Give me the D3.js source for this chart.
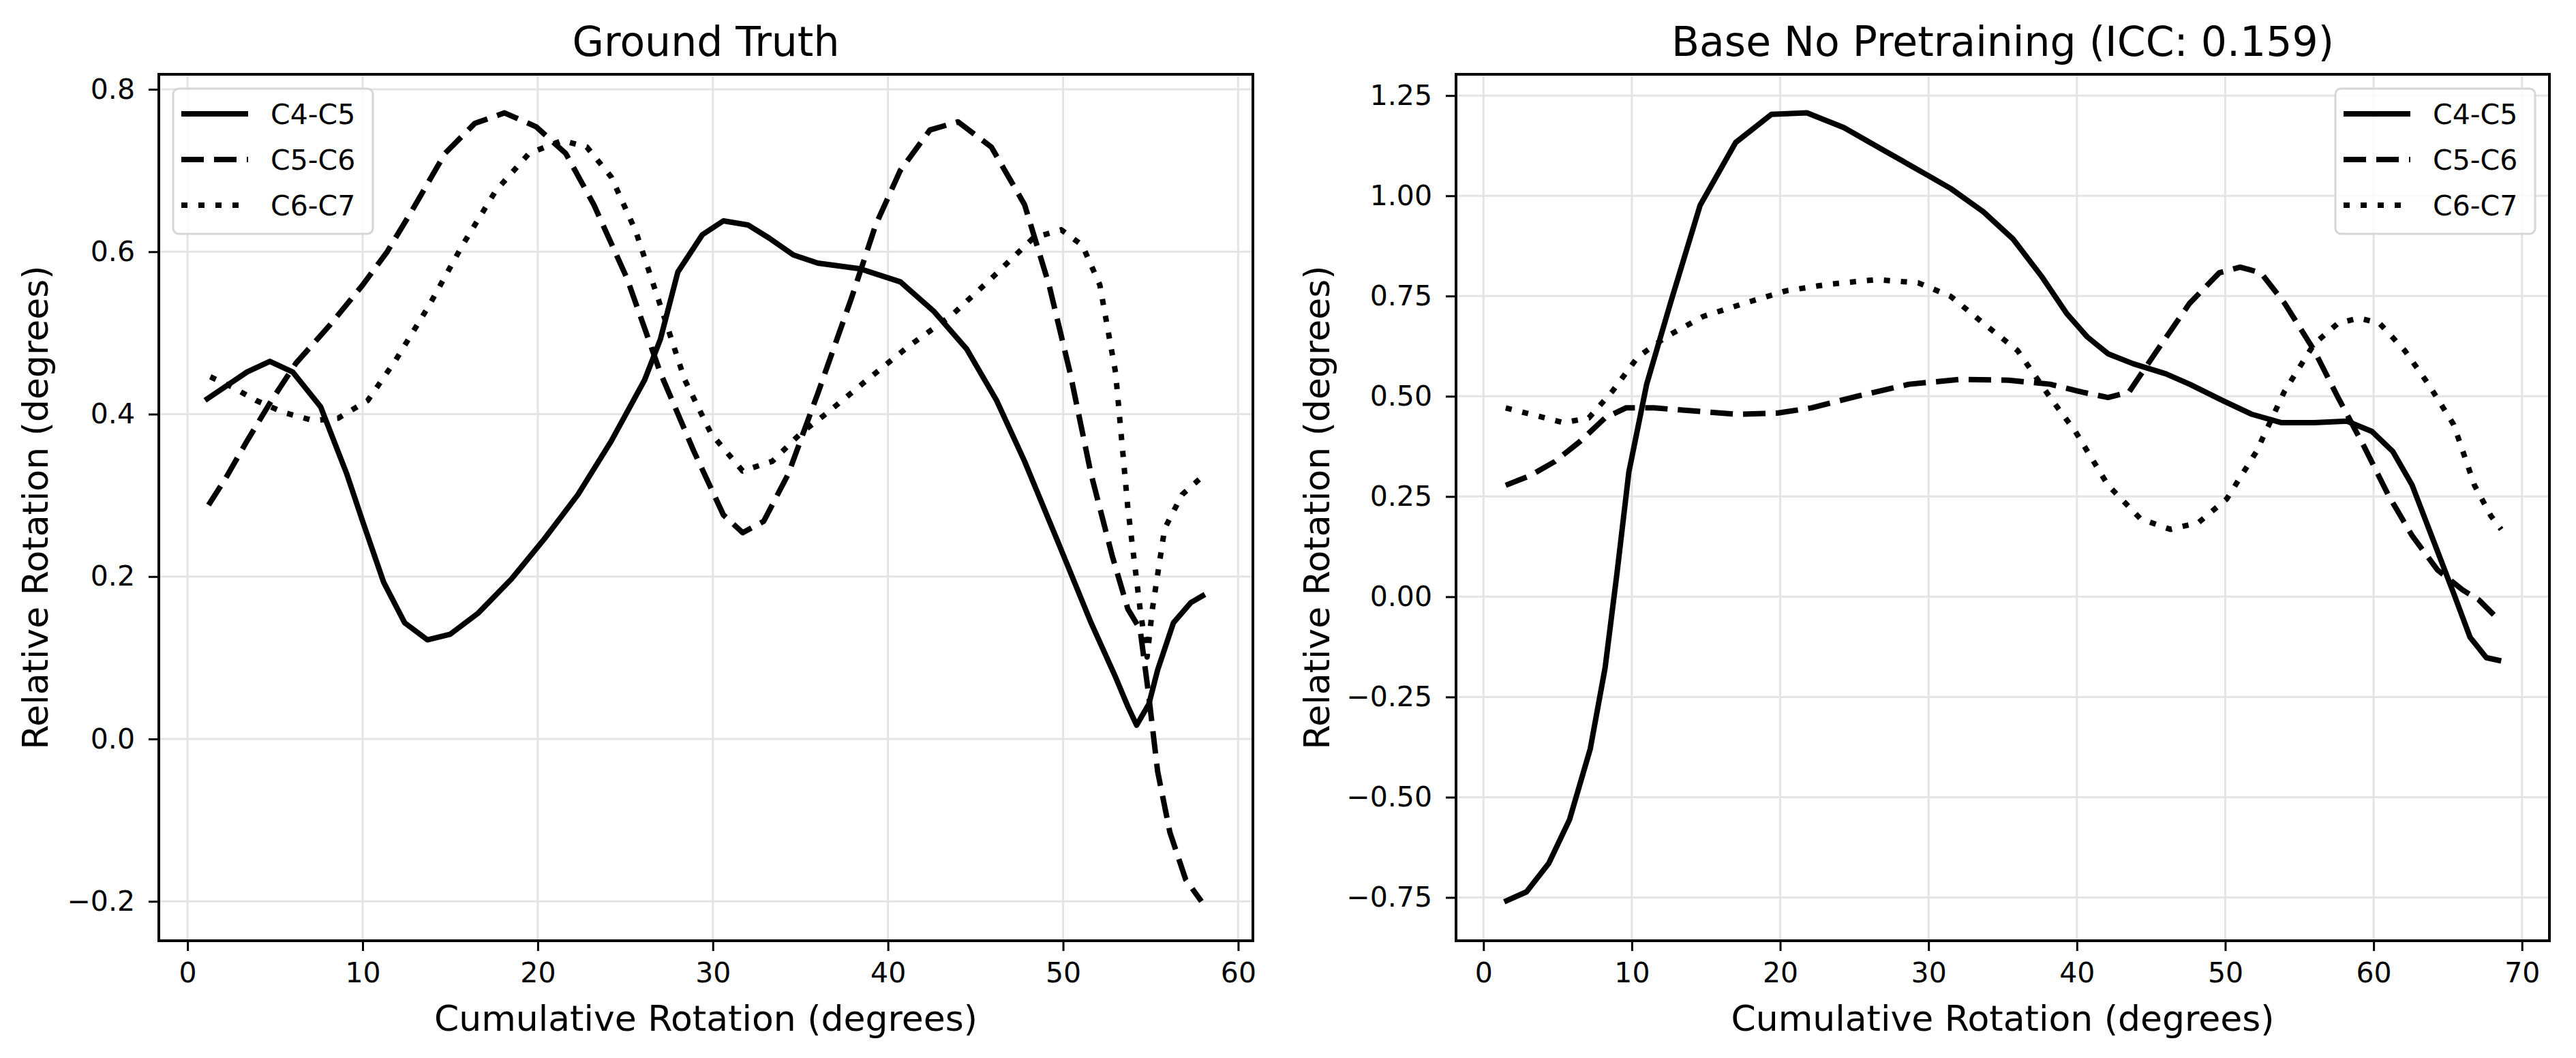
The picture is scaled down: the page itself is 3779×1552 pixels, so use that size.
<!DOCTYPE html>
<html>
<head>
<meta charset="utf-8">
<script src="https://cdn.jsdelivr.net/npm/d3@7"></script>
<style>
  body { margin: 0; background: #fff; }
  text { font-family: "DejaVu Sans", sans-serif; fill: #000; }
</style>
</head>
<body>
<script>
// ---- data ----
var seriesNames = ["C4-C5", "C5-C6", "C6-C7"];

// Ground Truth panel
var gtX45 = [1.0, 3.4, 4.7, 6.0, 7.6, 9.1, 10.0, 11.2, 12.4, 13.7, 15.0, 16.6, 18.5, 20.4, 22.3, 24.2, 26.1, 27.0, 28.0, 29.4, 30.6, 32.0, 33.2, 34.6, 36.0, 38.4, 40.7, 42.6, 44.5, 46.2, 47.8, 49.7, 51.6, 53.0, 53.7, 54.2, 54.9, 55.4, 56.3, 57.3, 58.1];
var gtY45 = [0.417, 0.452, 0.465, 0.452, 0.409, 0.326, 0.268, 0.193, 0.143, 0.122, 0.129, 0.155, 0.197, 0.247, 0.301, 0.367, 0.442, 0.492, 0.575, 0.621, 0.638, 0.633, 0.617, 0.596, 0.586, 0.579, 0.563, 0.527, 0.480, 0.417, 0.342, 0.243, 0.143, 0.076, 0.040, 0.017, 0.043, 0.085, 0.143, 0.168, 0.178];
var gtX56 = [1.2, 2.2, 3.4, 4.8, 6.2, 8.1, 10.0, 11.4, 12.8, 14.7, 16.4, 18.1, 19.9, 21.6, 23.2, 25.1, 27.0, 28.9, 30.6, 31.7, 32.9, 34.3, 36.0, 37.9, 39.3, 40.7, 42.4, 44.0, 45.9, 47.8, 49.2, 50.4, 51.6, 52.8, 53.7, 54.4, 54.9, 55.4, 56.1, 57.0, 57.9];
var gtY56 = [0.288, 0.322, 0.367, 0.417, 0.463, 0.509, 0.559, 0.600, 0.650, 0.721, 0.758, 0.771, 0.754, 0.721, 0.658, 0.567, 0.451, 0.355, 0.276, 0.254, 0.268, 0.326, 0.426, 0.542, 0.633, 0.700, 0.750, 0.760, 0.729, 0.658, 0.559, 0.451, 0.326, 0.226, 0.160, 0.135, 0.052, -0.040, -0.115, -0.173, -0.200];
var gtX67 = [1.3, 2.5, 3.9, 5.5, 7.2, 8.6, 10.3, 11.9, 13.8, 15.7, 17.6, 19.5, 21.4, 22.8, 24.2, 25.6, 27.0, 28.4, 29.9, 31.7, 33.4, 35.0, 36.5, 38.8, 41.2, 43.6, 45.9, 48.3, 49.9, 51.1, 52.1, 53.0, 53.7, 54.4, 54.8, 55.1, 55.8, 56.8, 57.9];
var gtY67 = [0.446, 0.434, 0.417, 0.402, 0.392, 0.395, 0.417, 0.467, 0.534, 0.608, 0.675, 0.721, 0.737, 0.729, 0.692, 0.625, 0.534, 0.442, 0.376, 0.330, 0.342, 0.376, 0.401, 0.442, 0.484, 0.521, 0.567, 0.617, 0.627, 0.608, 0.559, 0.451, 0.284, 0.160, 0.101, 0.160, 0.259, 0.301, 0.322];

// Base No Pretraining panel
var bnX45 = [1.4, 2.9, 4.4, 5.8, 7.2, 8.2, 9.0, 9.8, 11.0, 12.6, 14.6, 17.0, 19.4, 21.8, 24.3, 27.1, 29.9, 31.5, 33.7, 35.7, 37.6, 39.3, 40.7, 42.1, 43.8, 46.0, 47.6, 49.9, 51.8, 53.8, 56.0, 58.2, 59.9, 61.3, 62.6, 64.0, 65.4, 66.5, 67.6, 68.6];
var bnY45 = [-0.761, -0.736, -0.665, -0.556, -0.379, -0.177, 0.059, 0.311, 0.530, 0.732, 0.976, 1.133, 1.203, 1.207, 1.170, 1.111, 1.052, 1.018, 0.960, 0.892, 0.800, 0.707, 0.648, 0.606, 0.581, 0.556, 0.530, 0.488, 0.455, 0.434, 0.434, 0.438, 0.412, 0.362, 0.278, 0.143, 0.008, -0.101, -0.152, -0.160];
var bnX56 = [1.5, 3.2, 4.8, 6.5, 8.2, 9.6, 11.5, 14.3, 17.1, 19.8, 22.1, 25.4, 28.7, 32.1, 35.4, 38.2, 40.4, 42.1, 43.5, 45.4, 47.6, 49.6, 51.0, 52.4, 54.0, 56.0, 57.6, 59.3, 61.0, 62.6, 64.3, 66.0, 67.1, 68.1];
var bnY56 = [0.278, 0.303, 0.337, 0.387, 0.446, 0.471, 0.471, 0.463, 0.455, 0.458, 0.471, 0.502, 0.530, 0.542, 0.540, 0.530, 0.510, 0.497, 0.510, 0.614, 0.732, 0.808, 0.822, 0.808, 0.732, 0.614, 0.497, 0.379, 0.253, 0.152, 0.067, 0.017, -0.008, -0.045];
var bnX67 = [1.5, 3.2, 5.4, 7.1, 8.7, 10.4, 12.3, 14.8, 17.6, 20.4, 23.2, 26.5, 29.3, 31.5, 33.7, 36.0, 38.2, 39.9, 42.1, 44.3, 46.3, 48.2, 50.1, 52.1, 54.0, 56.0, 57.6, 59.0, 60.4, 62.1, 63.7, 65.4, 66.8, 67.9, 68.6];
var bnY67 = [0.471, 0.455, 0.434, 0.446, 0.513, 0.598, 0.648, 0.699, 0.732, 0.763, 0.779, 0.791, 0.783, 0.749, 0.682, 0.614, 0.497, 0.412, 0.278, 0.194, 0.168, 0.185, 0.244, 0.362, 0.513, 0.631, 0.682, 0.695, 0.682, 0.614, 0.530, 0.429, 0.278, 0.202, 0.168];

var gtTicksX = [0, 10, 20, 30, 40, 50, 60];
var gtTicksY = [-0.2, 0.0, 0.2, 0.4, 0.6, 0.8];
var bnTicksX = [0, 10, 20, 30, 40, 50, 60, 70];
var bnTicksY = [-0.75, -0.50, -0.25, 0.00, 0.25, 0.50, 0.75, 1.00, 1.25];

var dashes = [null, "33,15", "9,16"];

var svg = d3.select("body").append("svg")
  .attr("width", 3779)
  .attr("height", 1552);

function zip(xs, ys) {
  return xs.map(function(x, i) { return [x, ys[i]]; });
}

function drawPanel(p) {
  var x = d3.scaleLinear().domain(p.xDom).range([p.left, p.right]);
  var y = d3.scaleLinear().domain(p.yDom).range([p.bottom, p.top]);
  var g = svg.append("g");

  // grid
  g.selectAll(".gx").data(p.ticksX).enter().append("line")
    .attr("x1", function(d) { return x(d); }).attr("x2", function(d) { return x(d); })
    .attr("y1", p.top).attr("y2", p.bottom)
    .attr("stroke", "#e4e4e4").attr("stroke-width", 3);
  g.selectAll(".gy").data(p.ticksY).enter().append("line")
    .attr("y1", function(d) { return y(d); }).attr("y2", function(d) { return y(d); })
    .attr("x1", p.left).attr("x2", p.right)
    .attr("stroke", "#e4e4e4").attr("stroke-width", 3);

  // lines
  var line = d3.line()
    .x(function(d) { return x(d[0]); })
    .y(function(d) { return y(d[1]); });
  p.series.forEach(function(s, i) {
    g.append("path")
      .attr("d", line(s))
      .attr("fill", "none")
      .attr("stroke", "#000")
      .attr("stroke-width", 8)
      .attr("stroke-linejoin", "round")
      .attr("stroke-dasharray", dashes[i]);
  });

  // axes
  var ax = g.append("g").attr("transform", "translate(0," + p.bottom + ")")
    .call(d3.axisBottom(x).tickValues(p.ticksX).tickFormat(d3.format("d"))
      .tickSize(15).tickSizeOuter(0).tickPadding(17));
  var ay = g.append("g").attr("transform", "translate(" + p.left + ",0)")
    .call(d3.axisLeft(y).tickValues(p.ticksY).tickFormat(d3.format(p.yFmt))
      .tickSize(15).tickSizeOuter(0).tickPadding(20));
  [ax, ay].forEach(function(a) {
    a.select(".domain").remove();
    a.selectAll(".tick line").attr("stroke", "#000").attr("stroke-width", 3);
    a.selectAll(".tick text").attr("font-size", 41).attr("font-family", "DejaVu Sans");
  });

  // frame
  g.append("rect")
    .attr("x", p.left).attr("y", p.top)
    .attr("width", p.right - p.left).attr("height", p.bottom - p.top)
    .attr("fill", "none").attr("stroke", "#000").attr("stroke-width", 4);

  // title and labels
  g.append("text")
    .attr("x", (p.left + p.right) / 2).attr("y", 82)
    .attr("text-anchor", "middle").attr("font-size", 60)
    .text(p.title);
  g.append("text")
    .attr("x", (p.left + p.right) / 2).attr("y", 1512)
    .attr("text-anchor", "middle").attr("font-size", 52)
    .text("Cumulative Rotation (degrees)");
  g.append("text")
    .attr("transform", "translate(" + p.ylabX + "," + (p.top + p.bottom) / 2 + ") rotate(-90)")
    .attr("text-anchor", "middle").attr("font-size", 52)
    .text("Relative Rotation (degrees)");

  // legend
  var lg = g.append("g").attr("transform", "translate(" + p.legX + ",130)");
  lg.append("rect")
    .attr("width", 293).attr("height", 213).attr("rx", 8)
    .attr("fill", "#fff").attr("fill-opacity", 0.8)
    .attr("stroke", "#d6d6d6").attr("stroke-width", 3);
  seriesNames.forEach(function(name, i) {
    var cy = 37 + i * 67;
    lg.append("line")
      .attr("x1", 12).attr("x2", 110).attr("y1", cy).attr("y2", cy)
      .attr("stroke", "#000").attr("stroke-width", 8)
      .attr("stroke-dasharray", dashes[i]);
    lg.append("text")
      .attr("x", 143).attr("y", cy)
      .attr("dy", "0.36em").attr("font-size", 41)
      .text(name);
  });
}

drawPanel({
  left: 233, right: 1838, top: 109, bottom: 1380,
  xDom: [-1.64, 60.84], yDom: [-0.2485, 0.8185],
  ticksX: gtTicksX, ticksY: gtTicksY, yFmt: ".1f",
  title: "Ground Truth", ylabX: 70, legX: 254,
  series: [zip(gtX45, gtY45), zip(gtX56, gtY56), zip(gtX67, gtY67)]
});

drawPanel({
  left: 2136, right: 3740, top: 109, bottom: 1380,
  xDom: [-1.85, 71.85], yDom: [-0.858, 1.303],
  ticksX: bnTicksX, ticksY: bnTicksY, yFmt: ".2f",
  title: "Base No Pretraining (ICC: 0.159)", ylabX: 1950, legX: 3426,
  series: [zip(bnX45, bnY45), zip(bnX56, bnY56), zip(bnX67, bnY67)]
});
</script>
</body>
</html>
